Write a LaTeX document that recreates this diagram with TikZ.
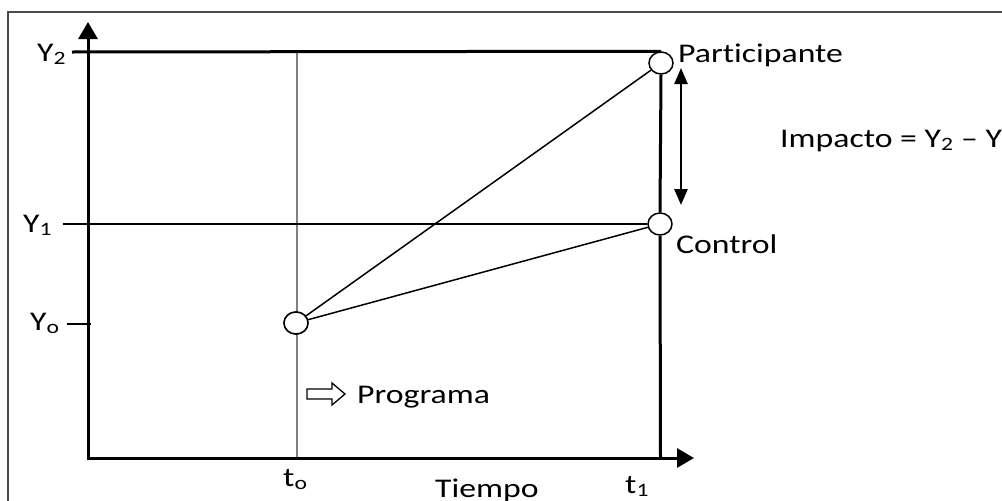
\documentclass[tikz,border=0pt]{standalone}
\usepackage{fontspec}
\setmainfont{Carlito}[FakeStretch=1.25,RawFeature=-liga]
\usetikzlibrary{arrows.meta,shapes.geometric}
\begin{document}
\begin{tikzpicture}[x=1pt,y=-1pt,
  lab/.style={anchor=base west,inner sep=0pt,font=\fontsize{27}{33}\selectfont},
  dot/.style={draw,ellipse,fill=white,line width=1.5pt,minimum width=24pt,minimum height=22pt,inner sep=0pt},
  axis/.style={line width=3pt,-{Triangle[width=19pt,length=17pt]}},
  thick line/.style={line width=3pt},
  thin line/.style={line width=1.5pt},
  tick/.style={line width=1.5pt}]
\useasboundingbox (0,0) rectangle (1002,501);
% frame
\coordinate (fb) at (8,501);
\coordinate (fc) at (8,12);
\coordinate (fr) at (1002,12);
\draw[gray!60!black,line width=2pt] (fb) -- (fc) -- (fr);
% key points
\coordinate (orig) at (88,458);
\coordinate (ytip) at (88,22);
\coordinate (xtip) at (694,458);
\coordinate (y2l) at (72,52);
\coordinate (y1l) at (63,224);
\coordinate (y0l) at (67,324);
\coordinate (y0r) at (91,324);
\coordinate (t0top) at (297,52);
\coordinate (t0bot) at (297,458);
\coordinate (t1bot) at (660.5,458);
% grey programme line
\draw[black!50,line width=2.2pt] (t0top) -- (t0bot);
% circles
\node[dot] (p) at (661,63) {};
\node[dot] (c) at (660,224) {};
\node[dot] (o) at (296,323) {};
% axes
\draw[axis] ([yshift=1.5pt]orig) -- (ytip);
\draw[axis] ([xshift=-1.5pt]orig) -- (xtip);
% horizontal references
\draw[thick line] (y2l) -- (p.north);
\draw[thin line] (y1l) -- (c.west);
\draw[tick] (y0l) -- (y0r);
% right vertical
\draw[thick line] (p.south) -- (c.north);
\draw[thick line] (c.south) -- (t1bot);
% trajectories
\draw[thin line] (o) -- (p);
\draw[thin line] (o) -- (c);
\node[dot] at (o) {};
% impact arrow
\coordinate (ia) at (681,68);
\coordinate (ib) at (681,205);
\draw[line width=2.5pt,{Triangle[width=13pt,length=16pt]}-{Triangle[width=13pt,length=16pt]}] (ia) -- (ib);
% hollow programme arrow
\draw[line width=1.3pt] (307,389) -- (332,389) -- (332,383) -- (345,394) -- (332,405) -- (332,399) -- (307,399) -- cycle;
% labels
\node[lab] (lp) at (678,62) {Participante};
\node[lab] (lc) at (676,253) {Control};
\node[lab] (li) at (780,147) {Impacto = Y\textsubscript{2} – Y\textsubscript{1}};
\node[lab] (lprog) at (357,403) {Programa};
\node[lab] (lt) at (435,497) {Tiempo};
\node[lab] (lt0) at (283,486) {t\textsubscript{o}};
\node[lab] (lt1) at (625,493) {t\textsubscript{1}};
\node[lab] (ly2) at (37,61) {Y\textsubscript{2}};
\node[lab] (ly1) at (23,232) {Y\textsubscript{1}};
\node[lab] (ly0) at (30,330) {Y\textsubscript{o}};
\end{tikzpicture}
\end{document}
